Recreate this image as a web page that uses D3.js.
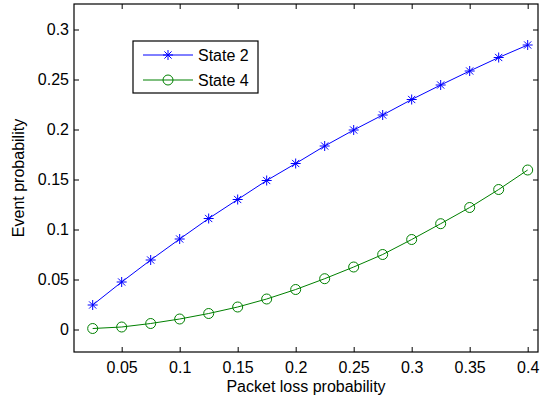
<!DOCTYPE html>
<html>
<head>
<meta charset="utf-8">
<script src="https://cdn.jsdelivr.net/npm/d3@7"></script>
<style>
  html, body { margin: 0; padding: 0; background: #fff; }
  svg { display: block; }
  text { font-family: "Liberation Sans", Arial, Helvetica, sans-serif; fill: #000; }
</style>
</head>
<body>
<svg id="chart" width="541" height="403"></svg>
<script>
// Packet loss probabilities (x) and event probabilities per state
const lossProb = [0.025, 0.05, 0.075, 0.1, 0.125, 0.15, 0.175, 0.2, 0.225, 0.25, 0.275, 0.3, 0.325, 0.35, 0.375, 0.4];
const state2 = [0.0245, 0.0475, 0.0695, 0.0905, 0.111, 0.130, 0.149, 0.166, 0.1835, 0.1995, 0.2145, 0.230, 0.2445, 0.2585, 0.272, 0.2845];
const state4 = [0.001, 0.0025, 0.006, 0.0105, 0.016, 0.0225, 0.0305, 0.040, 0.0508, 0.0625, 0.075, 0.090, 0.1058, 0.122, 0.140, 0.1595];
const xTicks = [0.05, 0.1, 0.15, 0.2, 0.25, 0.3, 0.35, 0.4];
const yTicks = [0, 0.05, 0.1, 0.15, 0.2, 0.25, 0.3];
const seriesNames = ["State 2", "State 4"];

const box = { left: 74, right: 538, top: 4, bottom: 352 };
const fontSize = 16;
const svg = d3.select("#chart");

const x = d3.scaleLinear().domain([0.0089, 0.4089]).range([box.left, box.right]);
const y = d3.scaleLinear().domain([-0.0225, 0.3255]).range([box.bottom, box.top]);

const fmt = d => d3.format("")(+d.toFixed(3));
const tickLen = 5;

// Axes: ticks point inward on all four sides, labels on bottom and left
const gB = svg.append("g").attr("transform", `translate(0,${box.bottom})`)
  .call(d3.axisBottom(x).tickValues(xTicks).tickFormat(fmt).tickSizeInner(-tickLen).tickSizeOuter(0).tickPadding(10));
const gL = svg.append("g").attr("transform", `translate(${box.left},0)`)
  .call(d3.axisLeft(y).tickValues(yTicks).tickFormat(fmt).tickSizeInner(-tickLen).tickSizeOuter(0).tickPadding(5));
const gT = svg.append("g").attr("transform", `translate(0,${box.top})`)
  .call(d3.axisTop(x).tickValues(xTicks).tickFormat("").tickSizeInner(-tickLen).tickSizeOuter(0));
const gR = svg.append("g").attr("transform", `translate(${box.right},0)`)
  .call(d3.axisRight(y).tickValues(yTicks).tickFormat("").tickSizeInner(-tickLen).tickSizeOuter(0));

[gB, gL, gT, gR].forEach(g => {
  g.attr("font-size", fontSize).attr("font-family", "'Liberation Sans', Arial, sans-serif");
  g.select(".domain").remove();
  g.selectAll(".tick line").attr("stroke", "#000").attr("stroke-width", 1);
});

// Frame
svg.append("rect")
  .attr("x", box.left).attr("y", box.top)
  .attr("width", box.right - box.left).attr("height", box.bottom - box.top)
  .attr("fill", "none").attr("stroke", "#000").attr("stroke-width", 1.2);

// Axis titles
svg.append("text").attr("x", (box.left + box.right) / 2).attr("y", 392)
  .attr("text-anchor", "middle").attr("font-size", fontSize).text("Packet loss probability");
svg.append("text")
  .attr("transform", `translate(23.5,${(box.top + box.bottom) / 2}) rotate(-90)`)
  .attr("text-anchor", "middle").attr("font-size", fontSize).text("Event probability");

const line = d3.line().x((d, i) => x(lossProb[i])).y(d => y(d));

function asterisk(g, cx, cy, r, color) {
  const d = r * 0.72;
  const p = `M${cx - r},${cy}H${cx + r}M${cx},${cy - r}V${cy + r}` +
            `M${cx - d},${cy - d}L${cx + d},${cy + d}M${cx - d},${cy + d}L${cx + d},${cy - d}`;
  g.append("path").attr("d", p).attr("stroke", color).attr("stroke-width", 1).attr("fill", "none");
}

const blue = "#0000ff", green = "#008000";

// State 2 series
svg.append("path").datum(state2).attr("d", line)
  .attr("fill", "none").attr("stroke", blue).attr("stroke-width", 1);
const g2 = svg.append("g");
state2.forEach((v, i) => asterisk(g2, x(lossProb[i]), y(v), 5, blue));

// State 4 series
svg.append("path").datum(state4).attr("d", line)
  .attr("fill", "none").attr("stroke", green).attr("stroke-width", 1);
svg.append("g").selectAll("circle").data(state4).join("circle")
  .attr("cx", (d, i) => x(lossProb[i])).attr("cy", d => y(d)).attr("r", 5)
  .attr("fill", "none").attr("stroke", green).attr("stroke-width", 1);

// Legend
const leg = svg.append("g");
leg.append("rect").attr("x", 133).attr("y", 41).attr("width", 125).attr("height", 52)
  .attr("fill", "#fff").attr("stroke", "#000").attr("stroke-width", 1.2);
const legY = [55, 80];
leg.append("line").attr("x1", 143).attr("x2", 193).attr("y1", legY[0]).attr("y2", legY[0]).attr("stroke", blue);
asterisk(leg, 168, legY[0], 5, blue);
leg.append("line").attr("x1", 143).attr("x2", 193).attr("y1", legY[1]).attr("y2", legY[1]).attr("stroke", green);
leg.append("circle").attr("cx", 168).attr("cy", legY[1]).attr("r", 5).attr("fill", "none").attr("stroke", green);
seriesNames.forEach((n, i) => {
  leg.append("text").attr("x", 198).attr("y", legY[i] + 5.5).attr("font-size", fontSize).text(n);
});
</script>
</body>
</html>
